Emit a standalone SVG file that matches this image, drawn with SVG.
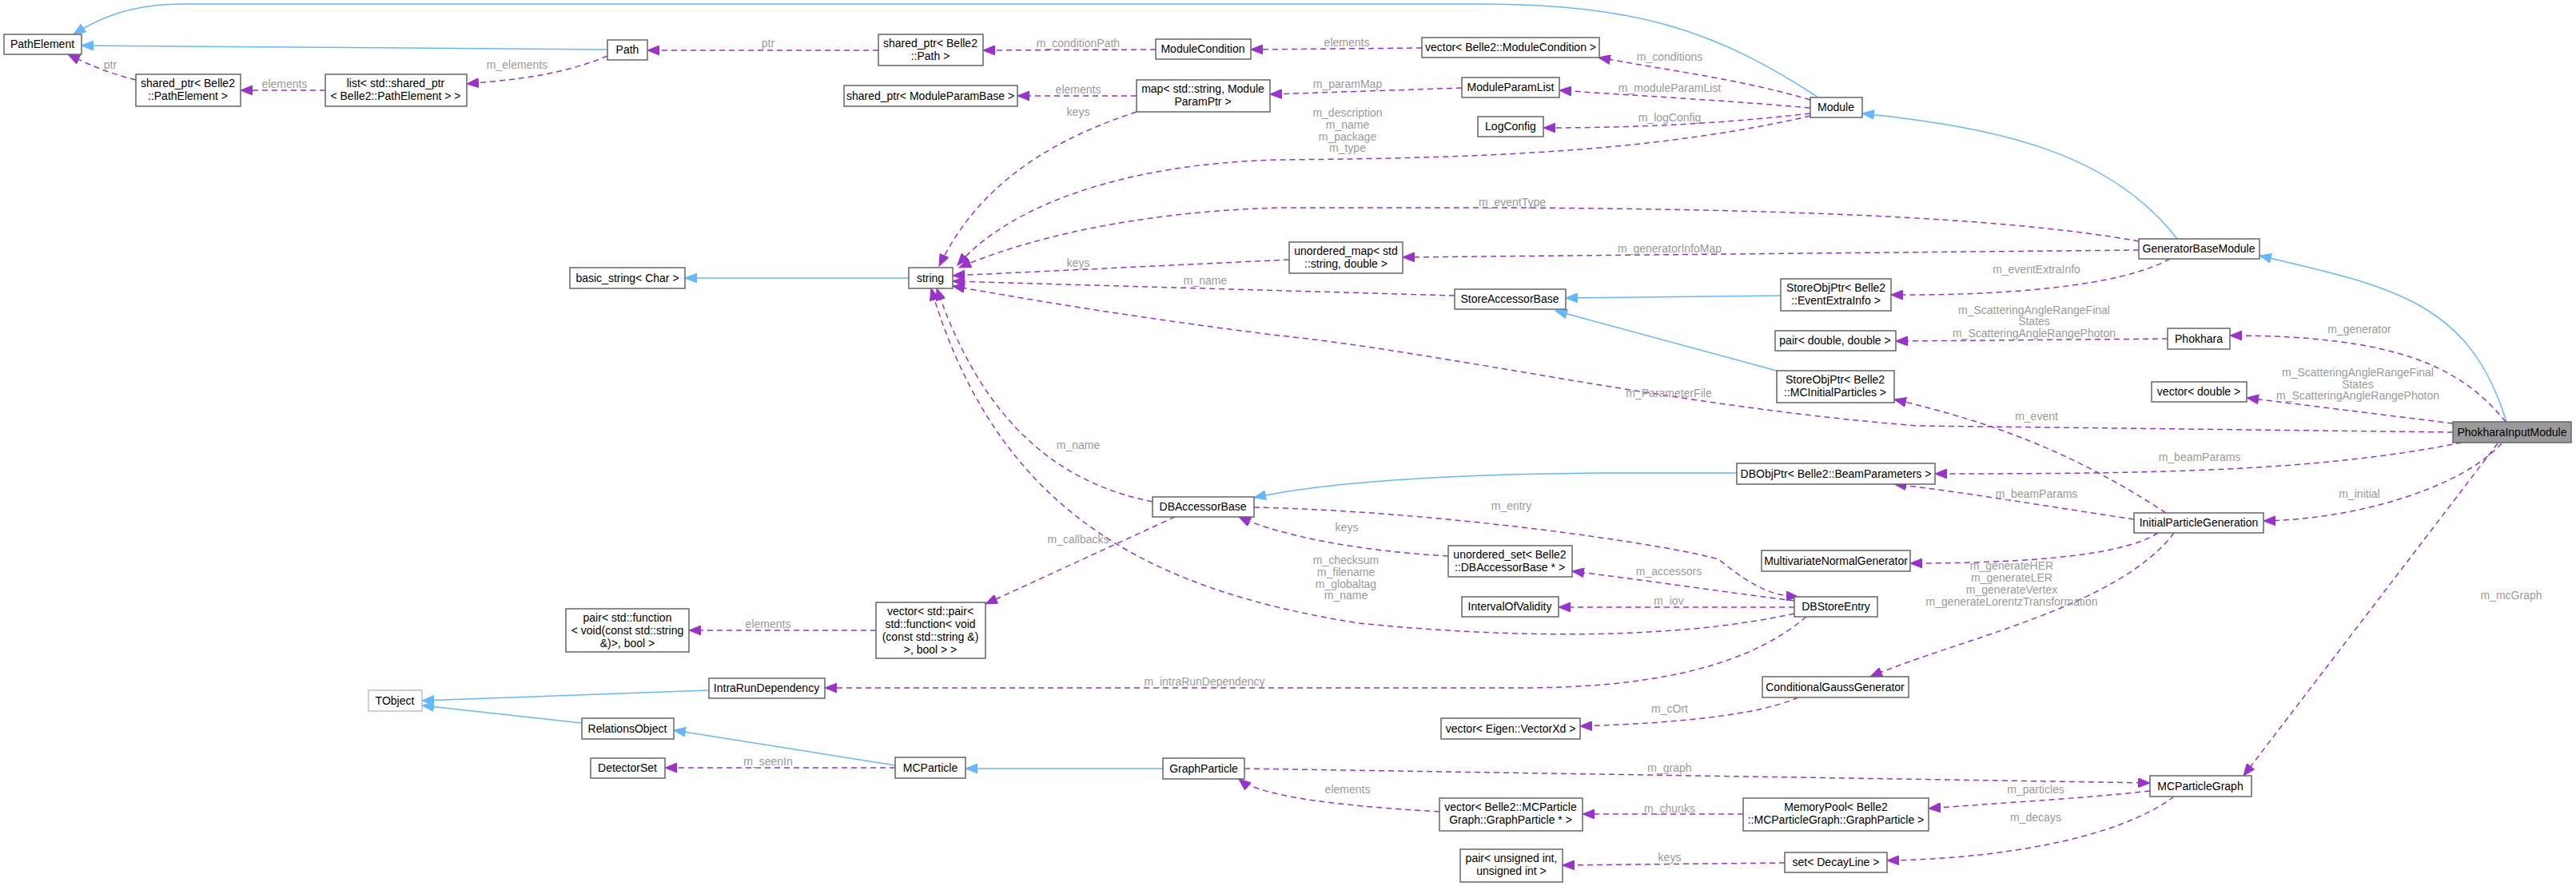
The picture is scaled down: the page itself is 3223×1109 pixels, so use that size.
<svg xmlns="http://www.w3.org/2000/svg" width="3223" height="1109" viewBox="0 0 3223 1109">
<style>
.n rect{fill:#fff;stroke:#666;stroke-width:1.5}
.n text{font-family:"Liberation Sans",Arial,sans-serif;font-size:14px;fill:#000;text-anchor:middle}
.e path{fill:none}
.u{stroke:#63b8ff;stroke-width:1.5}
.d{stroke:#9a32cd;stroke-width:1.5;stroke-dasharray:7,5}
.l{font-family:"Liberation Sans",Arial,sans-serif;font-size:14px;fill:#9a9a9a;text-anchor:middle}
</style>
<defs>
<marker id="ab" markerUnits="userSpaceOnUse" markerWidth="16" markerHeight="12" refX="15" refY="6" orient="auto"><path d="M0,0L15,6L0,12z" fill="#63b8ff" stroke="#63b8ff"/></marker>
<marker id="ap" markerUnits="userSpaceOnUse" markerWidth="16" markerHeight="12" refX="15" refY="6" orient="auto"><path d="M0,0L15,6L0,12z" fill="#9a32cd" stroke="#9a32cd"/></marker>
</defs>
<rect width="3223" height="1109" fill="#fff"/>
<g id="edges" class="e">
<g class="u" marker-end="url(#ab)">
<path d="M760,62 L102,57"/>
<path d="M2275,122 C2150,40 2050,5 1850,5 L230,5 C160,5 120,25 92,43"/>
<path d="M2724,299 C2640,190 2500,160 2330,142"/>
<path d="M3136,528 C3090,380 3000,360 2827,320"/>
<path d="M2228,370 L1959,373"/>
<path d="M2223,464 L1946,389"/>
<path d="M2173,592 L2000,592 C1800,594 1650,605 1569,623"/>
<path d="M1137,348 L857,348"/>
<path d="M887,864 L528,877"/>
<path d="M728,905 L528,883"/>
<path d="M1120,958 L843,914"/>
<path d="M1455,962 L1208,962"/>
</g>
<g class="d" marker-end="url(#ap)">
<path d="M170,100 C130,90 110,80 85,68"/>
<path d="M407,113 L301,113"/>
<path d="M760,70 C700,95 640,100 584,105"/>
<path d="M1099,63 L810,63"/>
<path d="M1446,62 L1230,63"/>
<path d="M1779,60 L1565,62"/>
<path d="M2265,125 C2180,100 2100,90 2000,72"/>
<path d="M1422,120 L1273,120"/>
<path d="M1829,110 L1589,118"/>
<path d="M2265,135 C2150,125 2050,120 1951,113"/>
<path d="M2265,142 C2150,155 2050,160 1931,160"/>
<path d="M2265,145 C2050,195 1800,198 1600,200 C1400,205 1260,260 1198,332"/>
<path d="M1422,140 C1300,180 1220,240 1175,333"/>
<path d="M2676,302 C2500,270 2200,262 1900,260 L1600,260 C1420,265 1280,300 1200,335"/>
<path d="M2676,313 L1755,322"/>
<path d="M1613,325 L1192,345"/>
<path d="M1820,370 L1192,352"/>
<path d="M2715,324 C2650,360 2500,370 2366,369"/>
<path d="M2712,424 L2372,427"/>
<path d="M3135,528 C3080,460 3000,420 2790,420"/>
<path d="M3069,530 L2811,498"/>
<path d="M3069,541 L2400,533 C2100,510 1800,440 1600,420 C1400,395 1260,370 1192,358"/>
<path d="M3080,554 C2900,590 2700,593 2421,593"/>
<path d="M3130,555 C3080,610 2950,650 2832,652"/>
<path d="M3125,555 L2807,971"/>
<path d="M2710,642 C2600,570 2500,530 2370,500"/>
<path d="M2670,650 C2570,635 2450,615 2370,606"/>
<path d="M2700,667 C2650,700 2500,705 2390,705"/>
<path d="M2720,667 C2650,760 2450,800 2340,847"/>
<path d="M1442,628 C1300,600 1220,500 1172,361"/>
<path d="M1470,647 L1233,756"/>
<path d="M1569,635 C1800,640 2080,680 2150,700 C2200,740 2220,745 2250,747"/>
<path d="M1812,696 C1700,690 1600,670 1550,647"/>
<path d="M2245,752 C2150,740 2050,725 1967,715"/>
<path d="M2245,760 L1950,760"/>
<path d="M2245,768 C2100,800 1900,800 1700,780 C1450,740 1250,650 1165,361"/>
<path d="M2260,772 C2180,840 2050,861 1900,861 L1032,861"/>
<path d="M1096,789 L862,789"/>
<path d="M2250,873 C2200,895 2100,905 1977,909"/>
<path d="M1120,961 L832,961"/>
<path d="M1557,962 L2690,980"/>
<path d="M1801,1016 C1700,1010 1580,1000 1550,975"/>
<path d="M2181,1019 L1980,1019"/>
<path d="M2690,990 C2600,1000 2500,1005 2413,1012"/>
<path d="M2720,997 C2650,1050 2500,1075 2361,1077"/>
<path d="M2233,1080 L1955,1083"/>
</g>
</g>
<g class="l">
<text class="l" x="138" y="86">ptr</text>
<text class="l" x="356" y="110">elements</text>
<text class="l" x="647" y="86">m_elements</text>
<text class="l" x="961" y="59">ptr</text>
<text class="l" x="1349" y="59">m_conditionPath</text>
<text class="l" x="1685" y="58">elements</text>
<text class="l" x="2089" y="76">m_conditions</text>
<text class="l" x="1349" y="117">elements</text>
<text class="l" x="1686" y="110">m_paramMap</text>
<text class="l" x="2089" y="115">m_moduleParamList</text>
<text class="l" x="2089" y="152">m_logConfig</text>
<text class="l" x="1349" y="145">keys</text>
<text class="l" x="1686" y="146">m_description</text>
<text class="l" x="1686" y="161">m_name</text>
<text class="l" x="1686" y="176">m_package</text>
<text class="l" x="1686" y="190">m_type</text>
<text class="l" x="1892" y="258">m_eventType</text>
<text class="l" x="2089" y="316">m_generatorInfoMap</text>
<text class="l" x="1349" y="334">keys</text>
<text class="l" x="1508" y="356">m_name</text>
<text class="l" x="2548" y="342">m_eventExtraInfo</text>
<text class="l" x="2545" y="393">m_ScatteringAngleRangeFinal</text>
<text class="l" x="2545" y="407">States</text>
<text class="l" x="2545" y="422">m_ScatteringAngleRangePhoton</text>
<text class="l" x="2952" y="417">m_generator</text>
<text class="l" x="2950" y="471">m_ScatteringAngleRangeFinal</text>
<text class="l" x="2950" y="486">States</text>
<text class="l" x="2950" y="500">m_ScatteringAngleRangePhoton</text>
<text class="l" x="2088" y="497">m_ParameterFile</text>
<text class="l" x="2548" y="526">m_event</text>
<text class="l" x="2752" y="577">m_beamParams</text>
<text class="l" x="2548" y="623">m_beamParams</text>
<text class="l" x="2952" y="623">m_initial</text>
<text class="l" x="1349" y="562">m_name</text>
<text class="l" x="1891" y="638">m_entry</text>
<text class="l" x="1685" y="665">keys</text>
<text class="l" x="1349" y="680">m_callbacks</text>
<text class="l" x="1684" y="706">m_checksum</text>
<text class="l" x="1684" y="721">m_filename</text>
<text class="l" x="1684" y="736">m_globaltag</text>
<text class="l" x="1684" y="750">m_name</text>
<text class="l" x="2088" y="720">m_accessors</text>
<text class="l" x="2088" y="757">m_iov</text>
<text class="l" x="2517" y="713">m_generateHER</text>
<text class="l" x="2517" y="728">m_generateLER</text>
<text class="l" x="2517" y="743">m_generateVertex</text>
<text class="l" x="2517" y="758">m_generateLorentzTransformation</text>
<text class="l" x="3142" y="750">m_mcGraph</text>
<text class="l" x="961" y="786">elements</text>
<text class="l" x="1507" y="858">m_intraRunDependency</text>
<text class="l" x="2089" y="892">m_cOrt</text>
<text class="l" x="961" y="958">m_seenIn</text>
<text class="l" x="2089" y="966">m_graph</text>
<text class="l" x="1686" y="993">elements</text>
<text class="l" x="2547" y="993">m_particles</text>
<text class="l" x="2089" y="1017">m_chunks</text>
<text class="l" x="2547" y="1028">m_decays</text>
<text class="l" x="2089" y="1078">keys</text>
</g>
<g id="PathElement" class="n"><rect x="5" y="43" width="97" height="25"/><text x="53" y="60">PathElement</text></g>
<g id="sp_PathElement" class="n"><rect x="170" y="93" width="131" height="40"/><text x="235" y="109">shared_ptr&lt; Belle2</text><text x="235" y="125">::PathElement &gt;</text></g>
<g id="list_sp" class="n"><rect x="407" y="93" width="177" height="40"/><text x="495" y="109">list&lt; std::shared_ptr</text><text x="495" y="125">&lt; Belle2::PathElement &gt; &gt;</text></g>
<g id="Path" class="n"><rect x="760" y="50" width="50" height="25"/><text x="785" y="67">Path</text></g>
<g id="sp_Path" class="n"><rect x="1099" y="43" width="131" height="39"/><text x="1164" y="59">shared_ptr&lt; Belle2</text><text x="1164" y="75">::Path &gt;</text></g>
<g id="ModuleCondition" class="n"><rect x="1446" y="49" width="119" height="25"/><text x="1505" y="66">ModuleCondition</text></g>
<g id="vec_MC" class="n"><rect x="1779" y="47" width="222" height="25"/><text x="1890" y="64">vector&lt; Belle2::ModuleCondition &gt;</text></g>
<g id="sp_MPB" class="n"><rect x="1056" y="107" width="217" height="26"/><text x="1164" y="125">shared_ptr&lt; ModuleParamBase &gt;</text></g>
<g id="map" class="n"><rect x="1422" y="100" width="167" height="40"/><text x="1505" y="116">map&lt; std::string, Module</text><text x="1505" y="132">ParamPtr &gt;</text></g>
<g id="ModuleParamList" class="n"><rect x="1829" y="97" width="122" height="25"/><text x="1890" y="114">ModuleParamList</text></g>
<g id="LogConfig" class="n"><rect x="1849" y="146" width="82" height="25"/><text x="1890" y="163">LogConfig</text></g>
<g id="Module" class="n"><rect x="2265" y="122" width="65" height="25"/><text x="2297" y="139">Module</text></g>
<g id="basic_string" class="n"><rect x="713" y="335" width="144" height="26"/><text x="785" y="353">basic_string&lt; Char &gt;</text></g>
<g id="string" class="n"><rect x="1137" y="335" width="55" height="26"/><text x="1164" y="353">string</text></g>
<g id="umap" class="n"><rect x="1613" y="303" width="142" height="39"/><text x="1684" y="319">unordered_map&lt; std</text><text x="1684" y="335">::string, double &gt;</text></g>
<g id="GeneratorBaseModule" class="n"><rect x="2676" y="299" width="151" height="25"/><text x="2751" y="316">GeneratorBaseModule</text></g>
<g id="StoreAccessorBase" class="n"><rect x="1820" y="362" width="139" height="25"/><text x="1889" y="379">StoreAccessorBase</text></g>
<g id="sop_EEI" class="n"><rect x="2228" y="349" width="138" height="40"/><text x="2297" y="365">StoreObjPtr&lt; Belle2</text><text x="2297" y="381">::EventExtraInfo &gt;</text></g>
<g id="pair_dd" class="n"><rect x="2221" y="414" width="151" height="25"/><text x="2296" y="431">pair&lt; double, double &gt;</text></g>
<g id="Phokhara" class="n"><rect x="2712" y="411" width="78" height="26"/><text x="2751" y="429">Phokhara</text></g>
<g id="sop_MCIP" class="n"><rect x="2223" y="464" width="147" height="40"/><text x="2296" y="480">StoreObjPtr&lt; Belle2</text><text x="2296" y="496">::MCInitialParticles &gt;</text></g>
<g id="vec_double" class="n"><rect x="2692" y="478" width="119" height="25"/><text x="2751" y="495">vector&lt; double &gt;</text></g>
<g id="PhokharaInputModule" class="n"><rect x="3069" y="528" width="148" height="26" style="fill:#999;stroke:#666"/><text x="3143" y="546">PhokharaInputModule</text></g>
<g id="DBObjPtr" class="n"><rect x="2173" y="580" width="248" height="26"/><text x="2297" y="598">DBObjPtr&lt; Belle2::BeamParameters &gt;</text></g>
<g id="DBAccessorBase" class="n"><rect x="1442" y="622" width="127" height="25"/><text x="1505" y="639">DBAccessorBase</text></g>
<g id="InitialParticleGeneration" class="n"><rect x="2670" y="642" width="162" height="25"/><text x="2751" y="659">InitialParticleGeneration</text></g>
<g id="uset" class="n"><rect x="1812" y="683" width="155" height="39"/><text x="1889" y="699">unordered_set&lt; Belle2</text><text x="1889" y="715">::DBAccessorBase * &gt;</text></g>
<g id="MVNG" class="n"><rect x="2204" y="689" width="186" height="26"/><text x="2297" y="707">MultivariateNormalGenerator</text></g>
<g id="IntervalOfValidity" class="n"><rect x="1829" y="747" width="121" height="25"/><text x="1889" y="764">IntervalOfValidity</text></g>
<g id="DBStoreEntry" class="n"><rect x="2245" y="747" width="104" height="25"/><text x="2297" y="764">DBStoreEntry</text></g>
<g id="pair_func" class="n"><rect x="708" y="762" width="154" height="54"/><text x="785" y="778">pair&lt; std::function</text><text x="785" y="794">&lt; void(const std::string</text><text x="785" y="810">&amp;)&gt;, bool &gt;</text></g>
<g id="vec_pair" class="n"><rect x="1096" y="754" width="137" height="70"/><text x="1164" y="770">vector&lt; std::pair&lt;</text><text x="1164" y="786">std::function&lt; void</text><text x="1164" y="802">(const std::string &amp;)</text><text x="1164" y="818">&gt;, bool &gt; &gt;</text></g>
<g id="IntraRunDependency" class="n"><rect x="887" y="849" width="145" height="25"/><text x="959" y="866">IntraRunDependency</text></g>
<g id="CGG" class="n"><rect x="2205" y="847" width="183" height="26"/><text x="2296" y="865">ConditionalGaussGenerator</text></g>
<g id="TObject" class="n"><rect x="461" y="864" width="67" height="26" style="stroke:#bfbfbf"/><text x="494" y="882">TObject</text></g>
<g id="RelationsObject" class="n"><rect x="728" y="899" width="115" height="26"/><text x="785" y="917">RelationsObject</text></g>
<g id="vec_eigen" class="n"><rect x="1803" y="899" width="174" height="26"/><text x="1890" y="917">vector&lt; Eigen::VectorXd &gt;</text></g>
<g id="DetectorSet" class="n"><rect x="739" y="949" width="93" height="25"/><text x="785" y="966">DetectorSet</text></g>
<g id="MCParticle" class="n"><rect x="1120" y="948" width="88" height="26"/><text x="1164" y="966">MCParticle</text></g>
<g id="GraphParticle" class="n"><rect x="1455" y="949" width="102" height="26"/><text x="1506" y="967">GraphParticle</text></g>
<g id="MCParticleGraph" class="n"><rect x="2690" y="971" width="127" height="26"/><text x="2753" y="989">MCParticleGraph</text></g>
<g id="vec_gp" class="n"><rect x="1801" y="999" width="179" height="41"/><text x="1890" y="1015">vector&lt; Belle2::MCParticle</text><text x="1890" y="1031">Graph::GraphParticle * &gt;</text></g>
<g id="MemoryPool" class="n"><rect x="2181" y="999" width="232" height="41"/><text x="2297" y="1015">MemoryPool&lt; Belle2</text><text x="2297" y="1031">::MCParticleGraph::GraphParticle &gt;</text></g>
<g id="pair_uu" class="n"><rect x="1827" y="1063" width="128" height="41"/><text x="1891" y="1079">pair&lt; unsigned int,</text><text x="1891" y="1095">unsigned int &gt;</text></g>
<g id="set_DL" class="n"><rect x="2233" y="1067" width="128" height="25"/><text x="2297" y="1084">set&lt; DecayLine &gt;</text></g>
</svg>
